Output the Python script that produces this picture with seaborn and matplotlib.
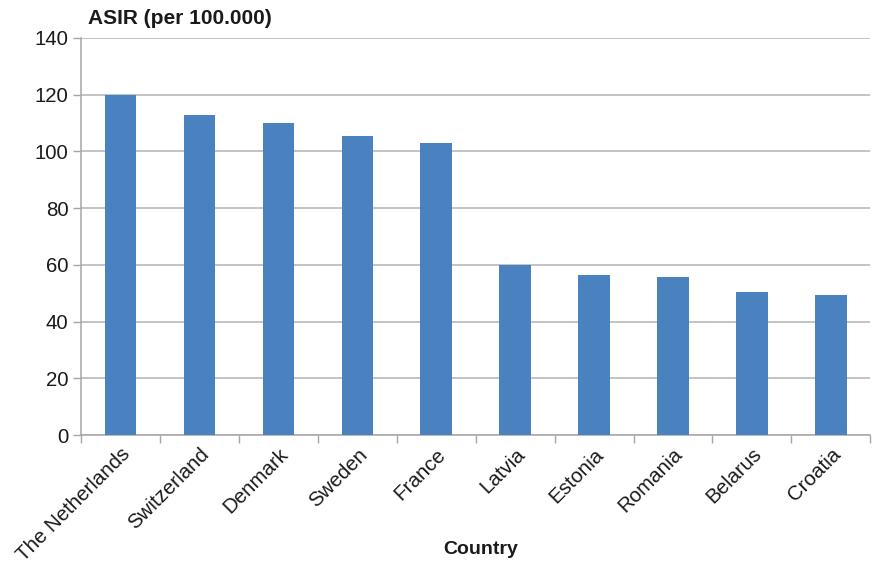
import numpy as np
import pandas as pd
import matplotlib
matplotlib.use("Agg")
import matplotlib.pyplot as plt
import seaborn as sns
from matplotlib.ticker import FixedLocator

countries = ["The Netherlands", "Switzerland", "Denmark", "Sweden", "France",
             "Latvia", "Estonia", "Romania", "Belarus", "Croatia"]
asir = [120, 113, 110, 105.5, 103, 60, 56.5, 55.8, 50.5, 49.5]
yticks = [0, 20, 40, 60, 80, 100, 120, 140]

df = pd.DataFrame({"Country": countries, "ASIR": asir})

sns.set_theme(style="white")
plt.rcParams["font.family"] = ["Liberation Sans", "DejaVu Sans"]

fig = plt.figure(figsize=(8.72, 5.64), dpi=100)
ax = fig.add_axes([0.093, 0.2287, 0.905, 0.704])

sns.barplot(data=df, x="Country", y="ASIR", color="#4A81BF", width=0.4,
            saturation=1, linewidth=0, ax=ax, zorder=3)

ax.set_ylim(0, 140)
ax.set_xlim(-0.5, len(countries) - 0.5)
ax.set_yticks(yticks)
ax.yaxis.grid(True, color="#b3b3b3", linewidth=1.1, zorder=0)
ax.xaxis.grid(False)

for side in ["top", "right"]:
    ax.spines[side].set_visible(False)
for side in ["left", "bottom"]:
    ax.spines[side].set_color("#a6a6a6")
    ax.spines[side].set_linewidth(1.1)

ax.tick_params(axis="y", which="major", left=True, direction="out", length=6,
               width=1, color="#a6a6a6", labelsize=14.7, labelcolor="#1a1a1a", pad=3)
ax.xaxis.set_minor_locator(FixedLocator(np.arange(-0.5, len(countries), 1)))
ax.tick_params(axis="x", which="minor", bottom=True, direction="out", length=6,
               width=1, color="#a6a6a6")
ax.tick_params(axis="x", which="major", bottom=True, direction="in", length=4,
               width=1, color="#a6a6a6", labelsize=14.8, labelcolor="#1a1a1a", pad=7)
plt.setp(ax.get_xticklabels(), rotation=45, ha="right", rotation_mode="anchor")

ax.set_ylabel("")
ax.set_xlabel("")
fig.text(0.551, 0.025, "Country", fontsize=14, fontweight="bold",
         color="#1a1a1a", ha="center", va="center")
fig.text(0.101, 0.968, "ASIR (per 100.000)", fontsize=15, fontweight="bold",
         color="#1a1a1a", ha="left", va="center")

fig.savefig("out.png", dpi=100)
